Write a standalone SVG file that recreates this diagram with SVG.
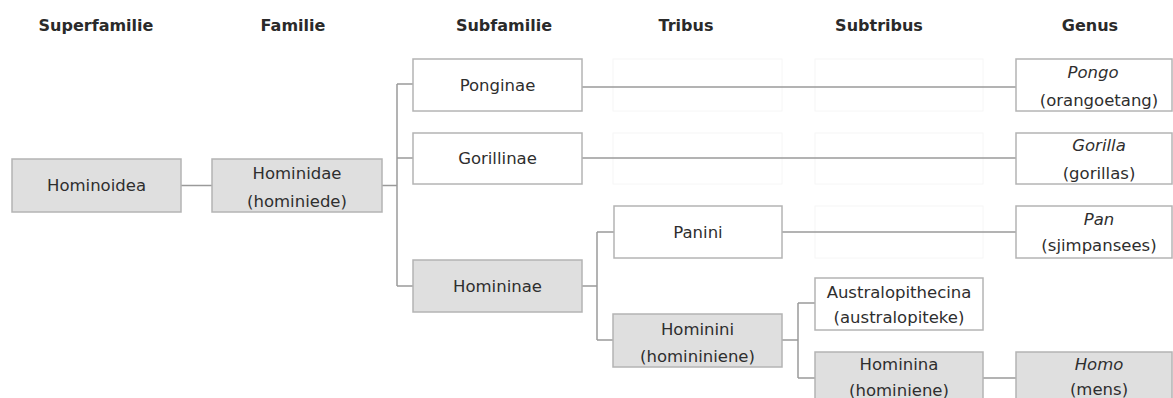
<svg xmlns="http://www.w3.org/2000/svg" width="1173" height="398" viewBox="0 0 1173 398">
<style>
.bg{fill:#ffffff}
.box{fill:#ffffff;stroke:#b4b4b4;stroke-width:1.5}
.grey{fill:#dfdfdf}
.ghost{fill:none;stroke:#f6f6f6;stroke-width:1}
.hdr{font-family:"DejaVu Sans",Verdana,sans-serif;font-weight:bold;font-size:16px;fill:#2a2a2a;text-anchor:middle}
.t{font-family:"DejaVu Sans",Verdana,sans-serif;font-size:16.5px;fill:#2e2e2e;text-anchor:middle}
.it{font-style:italic}
.conn line{stroke:#9a9a9a;stroke-width:1.5}
</style>
<rect class="bg" x="0" y="0" width="1173" height="398"/>
<g id="headers">
<text class="hdr" x="96" y="31">Superfamilie</text>
<text class="hdr" x="293" y="31">Familie</text>
<text class="hdr" x="504" y="31">Subfamilie</text>
<text class="hdr" x="686" y="31">Tribus</text>
<text class="hdr" x="879" y="31">Subtribus</text>
<text class="hdr" x="1090" y="31">Genus</text>
</g>
<g id="ghosts">
<rect class="ghost" x="613" y="59" width="169" height="52"/>
<rect class="ghost" x="613" y="133" width="169" height="51"/>
<rect class="ghost" x="815" y="59" width="168" height="52"/>
<rect class="ghost" x="815" y="133" width="168" height="51"/>
<rect class="ghost" x="815" y="206" width="168" height="52"/>
</g>
<g id="connectors" class="conn">
<line x1="181" y1="185.5" x2="212" y2="185.5"/>
<line x1="382" y1="185.5" x2="397" y2="185.5"/>
<line x1="397" y1="84" x2="397" y2="286"/>
<line x1="397" y1="84" x2="413" y2="84"/>
<line x1="397" y1="158" x2="413" y2="158"/>
<line x1="397" y1="286" x2="413" y2="286"/>
<line x1="582" y1="87" x2="1016" y2="87"/>
<line x1="582" y1="158" x2="1016" y2="158"/>
<line x1="582" y1="286" x2="597" y2="286"/>
<line x1="597" y1="232" x2="597" y2="340"/>
<line x1="597" y1="232" x2="614" y2="232"/>
<line x1="597" y1="340" x2="613" y2="340"/>
<line x1="782" y1="232" x2="1016" y2="232"/>
<line x1="782" y1="340" x2="798" y2="340"/>
<line x1="798" y1="303" x2="798" y2="378"/>
<line x1="798" y1="303" x2="815" y2="303"/>
<line x1="798" y1="378" x2="815" y2="378"/>
<line x1="983" y1="378" x2="1016" y2="378"/>
</g>
<g id="hominoidea">
<rect class="box grey" x="12" y="159" width="169" height="53"/>
<text class="t" x="96.5" y="191">Hominoidea</text>
</g>
<g id="hominidae">
<rect class="box grey" x="212" y="159" width="170" height="53"/>
<text class="t" x="297" y="179">Hominidae</text>
<text class="t" x="297" y="207">(hominiede)</text>
</g>
<g id="ponginae">
<rect class="box" x="413" y="59" width="169" height="52"/>
<text class="t" x="497.5" y="91">Ponginae</text>
</g>
<g id="gorillinae">
<rect class="box" x="413" y="133" width="169" height="51"/>
<text class="t" x="497.5" y="164">Gorillinae</text>
</g>
<g id="homininae">
<rect class="box grey" x="413" y="260" width="169" height="52"/>
<text class="t" x="497.5" y="292">Homininae</text>
</g>
<g id="panini">
<rect class="box" x="614" y="206" width="168" height="52"/>
<text class="t" x="698" y="238">Panini</text>
</g>
<g id="hominini">
<rect class="box grey" x="613" y="314" width="169" height="53"/>
<text class="t" x="697.5" y="335">Hominini</text>
<text class="t" x="697.5" y="362">(homininiene)</text>
</g>
<g id="australopithecina">
<rect class="box" x="815" y="278" width="168" height="52"/>
<text class="t" x="899" y="298">Australopithecina</text>
<text class="t" x="899" y="323">(australopiteke)</text>
</g>
<g id="hominina">
<rect class="box grey" x="815" y="352" width="168" height="54"/>
<text class="t" x="899" y="370">Hominina</text>
<text class="t" x="899" y="396">(hominiene)</text>
</g>
<g id="pongo">
<rect class="box" x="1016" y="59" width="156" height="52"/>
<text class="t it" x="1093" y="78">Pongo</text>
<text class="t" x="1099" y="106">(orangoetang)</text>
</g>
<g id="gorilla">
<rect class="box" x="1016" y="133" width="156" height="51"/>
<text class="t it" x="1099" y="151">Gorilla</text>
<text class="t" x="1099" y="179">(gorillas)</text>
</g>
<g id="pan">
<rect class="box" x="1016" y="206" width="156" height="52"/>
<text class="t it" x="1099" y="225">Pan</text>
<text class="t" x="1099" y="251">(sjimpansees)</text>
</g>
<g id="homo">
<rect class="box grey" x="1016" y="352" width="156" height="54"/>
<text class="t it" x="1099" y="370">Homo</text>
<text class="t" x="1099" y="395">(mens)</text>
</g>
</svg>
